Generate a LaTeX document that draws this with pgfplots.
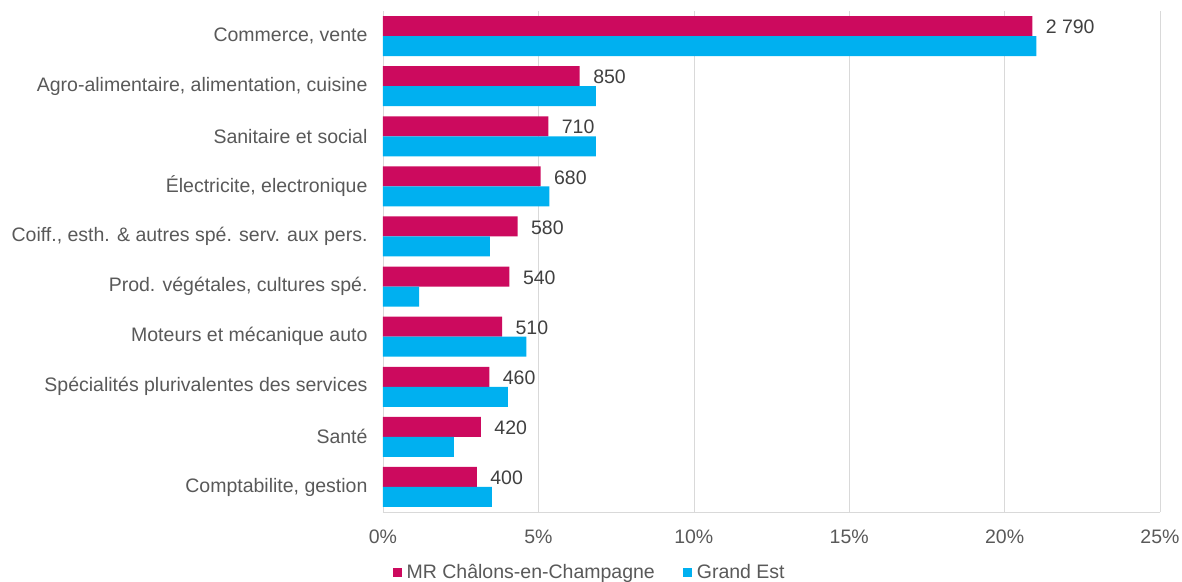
\documentclass[border=0pt]{standalone}
\usepackage{fontspec}
\setmainfont{Liberation Sans}
\usepackage{pgfplots}
\pgfplotsset{compat=1.18}
\usetikzlibrary{calc}
\definecolor{mr}{HTML}{CC0A5E}
\definecolor{ge}{HTML}{00B0F0}
\definecolor{txt}{HTML}{595959}
\definecolor{lbl}{HTML}{404040}
\definecolor{grd}{HTML}{D9D9D9}

\begin{document}
\begin{tikzpicture}
\begin{axis}[
  xbar, scale only axis,
  width=777pt, height=501pt,
  xmin=0, xmax=25, ymin=-0.5, ymax=9.5, y dir=reverse,
  bar width=20pt,
  font=\fontsize{19.5}{23}\selectfont,
  xtick={0,5,10,15,20,25},
  xticklabels={0\%,5\%,10\%,15\%,20\%,25\%},
  ytick={0,...,9},
  yticklabels={{Commerce, vente},
    {Agro-alimentaire, alimentation, cuisine},
    Sanitaire et social,
    {Électricite, electronique},
    {Coiff., esth. \& autres spé. serv. aux pers.},
    {Prod. végétales, cultures spé.~},
    Moteurs et mécanique auto,
    Spécialités plurivalentes des services,
    Santé,
    {Comptabilite, gestion}},
  tick label style={text=txt},
  yticklabel style={xshift=-12pt},
  xticklabel style={yshift=-14pt},
  major tick length=0pt,
  axis x line*=bottom, axis y line*=left,
  axis line style={draw=grd, -},
  xmajorgrids, major grid style={draw=grd},
  legend style={at={(0.266,-0.12)}, anchor=center, legend columns=2,
    draw=none, text=txt, font=\fontsize{19.5}{23}\selectfont,
    /tikz/every even column/.style={column sep=26pt}},
  legend image code/.code={\fill[#1] (0pt,-4.5pt) rectangle (9pt,4.5pt); \path (12pt,0pt);},
]
\addplot[fill=mr, draw=none, bar shift=10pt,
  nodes near coords, point meta=explicit symbolic,
  every node near coord/.style={anchor=west, xshift=10pt, yshift=9pt, text=lbl}]
  coordinates {
  (20.89,0) [2 790]
  (6.33,1) [850]
  (5.32,2) [710]
  (5.07,3) [680]
  (4.33,4) [580]
  (4.07,5) [540]
  (3.83,6) [510]
  (3.42,7) [460]
  (3.15,8) [420]
  (3.02,9) [400]
};
\addplot[fill=ge, draw=none, bar shift=-10pt] coordinates {
  (21.02,0) (6.85,1) (6.85,2) (5.35,3) (3.44,4)
  (1.16,5) (4.61,6) (4.02,7) (2.28,8) (3.50,9)
};
\legend{MR Châlons-en-Champagne, Grand Est}
\end{axis}
\pgfresetboundingbox
\path[use as bounding box] ($(current axis.south west)+(-383pt,-69pt)$) rectangle ($(current axis.north east)+(22pt,11pt)$);
\end{tikzpicture}
\end{document}
